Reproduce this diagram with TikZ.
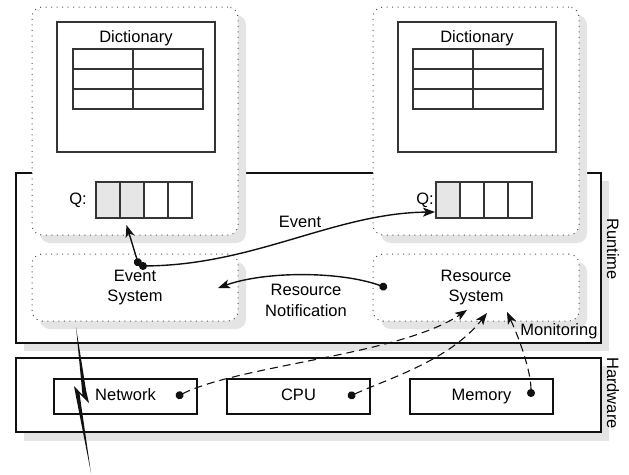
\documentclass[tikz,border=0pt]{standalone}
\usepackage{fontspec}
\setmainfont{Liberation Sans}
\usetikzlibrary{arrows.meta}

\definecolor{shadowgray}{HTML}{E4E4E4}
\definecolor{cellgray}{HTML}{E6E6E6}
\definecolor{ink}{HTML}{111111}
\definecolor{dotink}{HTML}{555555}

\begin{document}
\begin{tikzpicture}[x=1pt,y=-1pt,
  every node/.style={font=\fontsize{16.5}{20.5}\selectfont, inner sep=0pt, outer sep=0pt},
  castshadow/.style={draw=none, fill=shadowgray},
  roundshadow/.style={draw=none, fill=shadowgray, rounded corners=10pt},
  layerbox/.style={rectangle, draw=ink, line width=1.4pt, fill=white},
  dottedbox/.style={rectangle, rounded corners=10pt, draw=dotink, line width=1pt,
    dash pattern=on 1pt off 4.5pt, fill=white},
  dictbox/.style={rectangle, draw=ink!85, line width=1.2pt, minimum width=158pt, minimum height=130pt},
  qcell/.style={rectangle, draw=ink!85, line width=1.2pt, minimum width=24pt, minimum height=36pt},
  hwbox/.style={rectangle, draw=ink, line width=1.2pt, fill=white, minimum width=143pt,
    minimum height=35pt, text height=12pt, text depth=3.5pt},
  tablelines/.style={draw=ink!85, line width=1.2pt},
  solidlink/.style={line width=1.4pt, draw=ink, {Circle[length=8pt]}-{Stealth[length=12pt,width=9pt,inset=3pt]}},
  dashlink/.style={line width=1.1pt, draw=ink, dash pattern=on 8pt off 5pt,
    {Circle[length=8pt]}-{Stealth[length=12pt,width=9pt,inset=3pt]}},
  sidelabel/.style={rotate=-90}
]
\useasboundingbox (0,0) rectangle (629,474);

% layers with their cast shadows
\path[castshadow] (24,181) rectangle (609,351);
\node[layerbox, minimum width=585pt, minimum height=170pt] (runtime) at (308.5,258) {};
\path[castshadow] (24,366) rectangle (609,441);
\node[layerbox, minimum width=585pt, minimum height=74pt] (hardware) at (308.5,395) {};
\node[sidelabel] (runtimelbl) at (613,249) {Runtime};
\node[sidelabel] (hardwarelbl) at (613,393) {Hardware};

% application containers
\path[roundshadow] (40,15) rectangle (246,243);
\path[roundshadow] (381,15) rectangle (587,243);
\node[dottedbox, minimum width=206pt, minimum height=228pt] (appL) at (135,121) {};
\node[dottedbox, minimum width=206pt, minimum height=228pt] (appR) at (476,121) {};

% dictionaries
\node[dictbox] (dictL) at (136,87) {};
\node[dictbox] (dictR) at (477,87) {};
\node (dictLlbl) at (136,38) {Dictionary};
\node (dictRlbl) at (477,38) {Dictionary};
\foreach \x in {73,413}{
  \draw[tablelines] (\x,49) rectangle (\x+130,109);
  \draw[tablelines] (\x,69) -- (\x+130,69) (\x,89) -- (\x+130,89) (\x+60,49) -- (\x+60,109);
}

% queues
\node (qLlbl) at (78,200) {Q:};
\node (qRlbl) at (425,200) {Q:};
\node[qcell, fill=cellgray] (qL1) at (108,200) {};
\node[qcell, fill=cellgray] (qL2) at (132,200) {};
\node[qcell] (qL3) at (156,200) {};
\node[qcell] (qL4) at (180,200) {};
\node[qcell, fill=cellgray] (qR1) at (448,200) {};
\node[qcell] (qR2) at (472,200) {};
\node[qcell] (qR3) at (496,200) {};
\node[qcell] (qR4) at (520,200) {};

% runtime systems
\path[roundshadow] (40,262) rectangle (246,329);
\path[roundshadow] (381,262) rectangle (587,329);
\node[dottedbox, minimum width=206pt, minimum height=67pt, align=center] (evsys) at (135,287.5) {Event\\System};
\node[dottedbox, minimum width=206pt, minimum height=67pt, align=center] (ressys) at (476,287.5) {Resource\\System};

% hardware units
\node[hwbox] (net) at (125.5,396.5) {Network};
\node[hwbox] (cpu) at (298.5,396.5) {CPU};
\node[hwbox] (mem) at (481.5,396.5) {Memory};

% connector end points
\coordinate (evOut) at (139,266);
\coordinate (qLin) at (126.5,225);
\coordinate (qRin) at (435,212);
\coordinate (resOut) at (387,288);
\coordinate (evIn) at (218,288);
\coordinate (netOut) at (176,397);
\coordinate (cpuOut) at (348,397);
\coordinate (memOut) at (531,397);
\coordinate (resInA) at (467,310);
\coordinate (resInB) at (487,313);
\coordinate (resInC) at (507,312);

% events and notifications
\draw[solidlink] (evOut) -- (qLin);
\draw[solidlink] (evOut) .. controls (255,265) and (335,213) .. (qRin);
\node (eventlbl) at (300,222) {Event};
\draw[solidlink] (resOut) .. controls (340,271) and (265,271) .. (evIn);
\node[align=center] (notiflbl) at (306,300.5) {Resource\\Notification};

% monitoring
\draw[dashlink] (netOut) .. controls (240,365) and (400,355) .. (resInA);
\draw[dashlink] (cpuOut) .. controls (390,378) and (450,360) .. (resInB);
\draw[dashlink] (memOut) .. controls (531,372) and (520,340) .. (resInC);
\node (monlbl) at (559,331) {Monitoring};

% network link leaving the machine
\fill[ink] (76,327) -- (86,390) -- (89,403) -- (79.5,393.5) -- (91,473)
  -- (75.5,394) -- (74,386) -- (82.5,395) -- cycle;
\end{tikzpicture}
\end{document}
